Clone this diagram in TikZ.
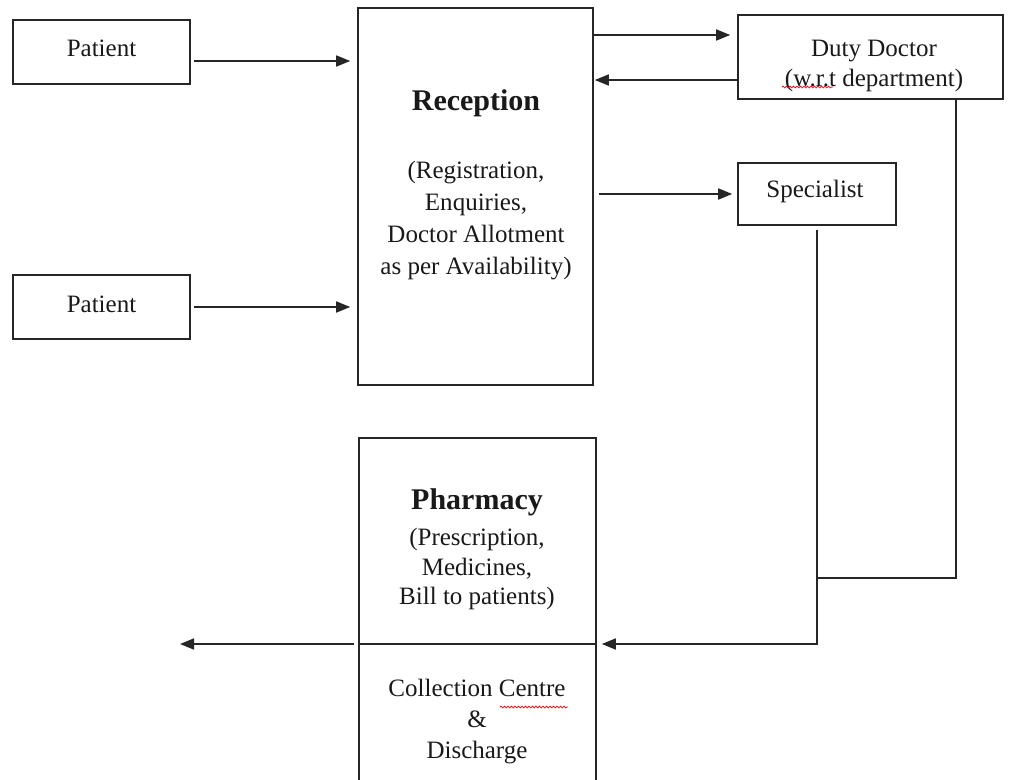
\documentclass[tikz,border=0pt]{standalone}
\usepackage{fontspec}
\setmainfont{Liberation Serif}
\usetikzlibrary{arrows.meta,calc,decorations.pathmorphing}
\tikzset{
 box/.style={draw=black!85, line width=1.6pt, inner sep=0pt},
 txt/.style={align=center, font=\fontsize{25}{30}\selectfont, text=black!90, inner sep=0pt},
 head/.style={font=\fontsize{30}{34}\selectfont\bfseries, text=black!90, inner sep=0pt},
 arr/.style={line width=1.6pt, draw=black!85, -{Triangle[length=14pt,width=11pt]}},
 ln/.style={line width=1.6pt, draw=black!85},
 squig/.style={red, line width=0.7pt, decorate, decoration={snake, amplitude=0.9pt, segment length=3.5pt}}
}
\begin{document}
\begin{tikzpicture}[x=1pt,y=-1pt]
\useasboundingbox (0,0) rectangle (1011,779);
\clip (0,0) rectangle (1011,779);
\fill[white] (0,0) rectangle (1011,779);

% boxes
\node[box, minimum width=177pt, minimum height=64pt] (p1) at (101.5,52) {};
\node[txt] (p1t) at (101.5,48) {Patient};
\node[box, minimum width=177pt, minimum height=64pt] (p2) at (101.5,307) {};
\node[txt] (p2t) at (101.5,304) {Patient};

\node[box, minimum width=235pt, minimum height=377pt] (rec) at (475.5,196.5) {};
\node[head] (rech) at (476,103) {Reception};
\node[txt, font=\fontsize{25}{32}\selectfont] (rect) at (476,221) {(Registration,\\Enquiries,\\Doctor Allotment\\as per Availability)};

\node[box, minimum width=265pt, minimum height=84pt] (duty) at (870.5,57) {};
\node[txt] (dutyt) at (874,66) {Duty Doctor\\(w.r.t department)};

\node[box, minimum width=158pt, minimum height=62pt] (spec) at (817,194) {};
\node[txt] (spect) at (815,191) {Specialist};

\node[box, minimum width=237pt, minimum height=362pt] (ph) at (477.5,619) {};
\node[head] (phh) at (477,502) {Pharmacy};
\node[txt, font=\fontsize{25}{29.5}\selectfont] (pht) at (477,569) {(Prescription,\\Medicines,\\Bill to patients)};
\node[txt, font=\fontsize{25}{31}\selectfont] (colt) at (477,722) {Collection Centre\\\&\\Discharge};

% spell-check marks
\draw[squig] (782,87) -- (833,87);
\draw[squig] (500,707) -- (568,707);

% helper coordinates
\coordinate (div) at (477.5,644);
\coordinate (a1) at ($(p1.east)+(0,9)$);
\coordinate (d1) at ($(duty.west)+(0,-22)$);
\coordinate (d2) at ($(duty.west)+(0,23)$);
\coordinate (dj) at (956,578);
\coordinate (exitpt) at (180,644);

% divider in pharmacy box
\draw[ln] (ph.west |- div) -- (ph.east |- div);

% connectors
\draw[arr, shorten <=3pt, shorten >=7pt] (a1) -- (a1 -| rec.west);
\draw[arr, shorten <=3pt, shorten >=7pt] (p2.east) -- (p2.east -| rec.west);
\draw[arr, shorten >=7pt] (d1 -| rec.east) -- (d1);
\draw[arr, shorten >=1pt] (d2) -- (d2 -| rec.east);
\draw[arr, shorten <=5pt, shorten >=5pt] (spec.west -| rec.east) -- (spec.west);
\draw[ln] (dj |- duty.south) -- (dj) -- (dj -| spec.south);
\draw[arr, shorten <=4pt, shorten >=5pt] (spec.south) -- (spec.south |- div) -- (ph.east |- div);
\draw[arr, shorten <=4pt] (ph.west |- div) -- (exitpt);
\end{tikzpicture}
\end{document}
